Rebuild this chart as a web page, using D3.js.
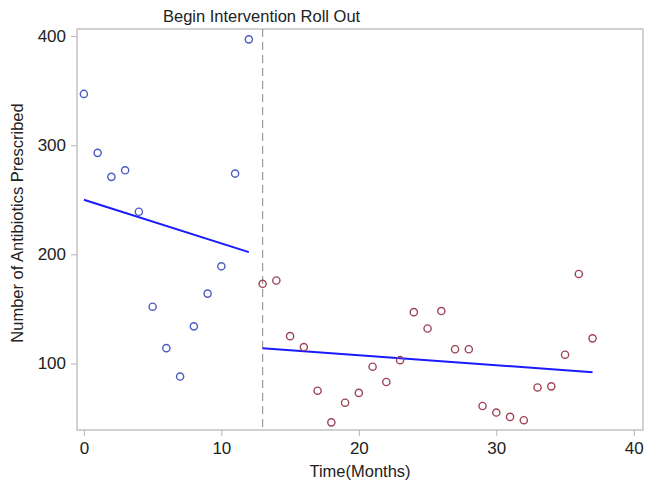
<!DOCTYPE html>
<html>
<head>
<meta charset="utf-8">
<script src="https://cdn.jsdelivr.net/npm/d3@7"></script>
<style>
  body { margin: 0; background: #fff; }
  text { font-family: "Liberation Sans", Arial, sans-serif; fill: #222; }
</style>
</head>
<body>
<svg id="chart" width="645" height="485"></svg>
<script>
// monthly counts
var preMonths = [0, 1, 2, 3, 4, 5, 6, 7, 8, 9, 10, 11, 12];
var preCounts = [347, 293, 271, 277, 239, 152, 114, 88, 134, 164, 189, 274, 397];
var postMonths = [13, 14, 15, 16, 17, 18, 19, 20, 21, 22, 23, 24, 25, 26, 27, 28, 29, 30, 31, 32, 33, 34, 35, 36, 37];
var postCounts = [173, 176, 125, 115, 75, 46, 64, 73, 97, 83, 103, 147, 132, 148, 113, 113, 61, 55, 51, 48, 78, 79, 108, 182, 123];

// fitted segments [month, value]
var preFit = [[0, 250], [12, 202]];
var postFit = [[13, 114], [37, 92]];

var interventionMonth = 13;
var xTicks = [0, 10, 20, 30, 40];
var yTicks = [100, 200, 300, 400];

var svg = d3.select("#chart");
var plot = {left: 77, right: 643, top: 29, bottom: 430};

var x = d3.scaleLinear().domain([-0.5, 40.67]).range([plot.left, plot.right]);
var y = d3.scaleLinear().domain([39, 406.5]).range([plot.bottom, plot.top]);

// frame
svg.append("rect")
  .attr("x", plot.left).attr("y", plot.top)
  .attr("width", plot.right - plot.left).attr("height", plot.bottom - plot.top)
  .attr("fill", "none").attr("stroke", "#b5b5b5").attr("stroke-width", 1.2);

// axes
var xAxis = svg.append("g")
  .attr("transform", "translate(0," + plot.bottom + ")")
  .call(d3.axisBottom(x).tickValues(xTicks).tickSize(6).tickPadding(6));
var yAxis = svg.append("g")
  .attr("transform", "translate(" + plot.left + ",0)")
  .call(d3.axisLeft(y).tickValues(yTicks).tickSize(6).tickPadding(5));

[xAxis, yAxis].forEach(function(g) {
  g.select(".domain").remove();
  g.selectAll(".tick line").attr("stroke", "#b5b5b5");
  g.selectAll(".tick text").style("font-size", "17px").attr("fill", "#222")
    .style("font-family", "'Liberation Sans', Arial, sans-serif");
});

// axis labels
svg.append("text")
  .attr("x", (plot.left + plot.right) / 2).attr("y", 477)
  .attr("text-anchor", "middle").style("font-size", "16.5px")
  .text("Time(Months)");
svg.append("text")
  .attr("transform", "translate(23," + 223 + ") rotate(-90)")
  .attr("text-anchor", "middle").style("font-size", "16.5px")
  .text("Number of Antibiotics Prescribed");

// intervention line
svg.append("line")
  .attr("x1", x(interventionMonth)).attr("x2", x(interventionMonth))
  .attr("y1", plot.top).attr("y2", plot.bottom)
  .attr("stroke", "#999").attr("stroke-width", 1.2)
  .attr("stroke-dasharray", "8,5");
svg.append("text")
  .attr("x", x(interventionMonth) - 1).attr("y", 22)
  .attr("text-anchor", "middle").style("font-size", "16.5px")
  .text("Begin Intervention Roll Out");

// fitted lines
var line = d3.line().x(d => x(d[0])).y(d => y(d[1]));
[preFit, postFit].forEach(function(seg) {
  svg.append("path").datum(seg)
    .attr("d", line)
    .attr("fill", "none").attr("stroke", "#1a1aff").attr("stroke-width", 2);
});

// points
function drawPoints(months, counts, color) {
  svg.append("g").selectAll("circle")
    .data(months)
    .enter().append("circle")
    .attr("cx", d => x(d))
    .attr("cy", (d, i) => y(counts[i]))
    .attr("r", 3.6)
    .attr("fill", "none")
    .attr("stroke", color)
    .attr("stroke-width", 1.4);
}
drawPoints(preMonths, preCounts, "#4c5cc0");
drawPoints(postMonths, postCounts, "#9e4458");
</script>
</body>
</html>
